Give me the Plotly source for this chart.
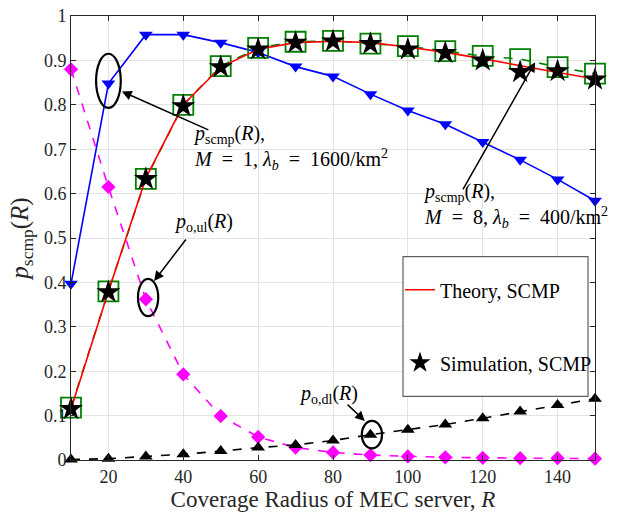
import plotly.graph_objects as go

R = [10, 20, 30, 40, 50, 60, 70, 80, 90, 100, 110, 120, 130, 140, 150]
p_scmp_m1 = [0.397, 0.848, 0.958, 0.958, 0.940, 0.918, 0.886, 0.864, 0.824, 0.787, 0.756, 0.716, 0.676, 0.632, 0.584]
theory_scmp = [0.115, 0.380, 0.635, 0.800, 0.885, 0.925, 0.940, 0.943, 0.940, 0.930, 0.918, 0.904, 0.888, 0.873, 0.858]
theory_m8 = [0.118, 0.380, 0.633, 0.800, 0.887, 0.928, 0.942, 0.944, 0.938, 0.932, 0.921, 0.910, 0.903, 0.885, 0.870]
sim_scmp = [0.115, 0.378, 0.633, 0.797, 0.885, 0.925, 0.940, 0.943, 0.937, 0.925, 0.917, 0.900, 0.874, 0.876, 0.857]
p_o_ul = [0.880, 0.615, 0.362, 0.193, 0.099, 0.052, 0.028, 0.017, 0.011, 0.008, 0.006, 0.005, 0.004, 0.004, 0.003]
p_o_dl = [0.001, 0.003, 0.008, 0.013, 0.020, 0.028, 0.034, 0.044, 0.057, 0.068, 0.080, 0.094, 0.109, 0.124, 0.138]

FONT = "Liberation Serif"

fig = go.Figure()

fig.add_trace(go.Scatter(x=R, y=p_scmp_m1, mode="lines+markers", showlegend=False, cliponaxis=False,
                         line=dict(color="#0000ff", width=1.6),
                         marker=dict(symbol="triangle-down", size=12, color="#0000ff")))
fig.add_trace(go.Scatter(x=R, y=p_o_ul, mode="lines+markers", showlegend=False, cliponaxis=False,
                         line=dict(color="#ff00ff", width=1.6, dash="dash"),
                         marker=dict(symbol="diamond", size=11, color="#ff00ff")))
fig.add_trace(go.Scatter(x=R, y=p_o_dl, mode="lines+markers", showlegend=False, cliponaxis=False,
                         line=dict(color="black", width=1.6, dash="dash"),
                         marker=dict(symbol="triangle-up", size=12, color="black")))
fig.add_trace(go.Scatter(x=R, y=theory_m8, mode="lines+markers", showlegend=False, cliponaxis=False,
                         line=dict(color="#008000", width=1.6, dash="dash"),
                         marker=dict(symbol="square-open", size=20, color="#008000",
                                     line=dict(width=1.8, color="#008000"))))
fig.add_trace(go.Scatter(x=R, y=theory_scmp, mode="lines", name="Theory, SCMP",
                         legendgroup="a", cliponaxis=False,
                         line=dict(color="#ff0000", width=1.6)))
fig.add_trace(go.Scatter(x=R, y=sim_scmp, mode="markers", name="Simulation, SCMP",
                         legendgroup="b", cliponaxis=False,
                         marker=dict(symbol="star", size=18, color="black")))

# legend box
fig.add_shape(type="rect", xref="paper", yref="paper",
              x0=(403 - 71) / 524, x1=(588 - 71) / 524,
              y0=(460 - 395) / 454, y1=(460 - 252) / 454,
              line=dict(color="#606060", width=1.2), fillcolor="white", layer="above")

# ellipses
ell = [(20, 0.854, 3.3, 0.061), (30.6, 0.366, 2.7, 0.042), (90.4, 0.057, 2.7, 0.031)]
for cx, cy, rx, ry in ell:
    fig.add_shape(type="circle", xref="x", yref="y", x0=cx - rx, x1=cx + rx,
                  y0=cy - ry, y1=cy + ry, line=dict(color="black", width=2.2))

# arrows
arrows = [((47.1, 0.742), (23.6, 0.830)), ((41.0, 0.500), (32.2, 0.403)),
          ((83.5, 0.128), (88.5, 0.088)), ((114.5, 0.606), (134.0, 0.896))]
for (tx, ty), (hx, hy) in arrows:
    fig.add_annotation(x=hx, y=hy, ax=tx, ay=ty, xref="x", yref="y", axref="x", ayref="y",
                       text="", showarrow=True, arrowhead=2, arrowsize=1.3, arrowwidth=1.5,
                       arrowcolor="black")

SP = "\u2002"

tfont = dict(family=FONT, size=20, color="black")
fig.add_annotation(x=42, y=0.703, xref="x", yref="y", xanchor="left", yanchor="middle",
                   align="left", showarrow=False, font=tfont,
                   text="<i>p</i><sub>scmp</sub>(<i>R</i>),<br><i>M</i>" + SP + "=" + SP + "1, <i>λ<sub>b</sub></i>"
                        + SP + "=" + SP + "1600/km<sup>2</sup>")
fig.add_annotation(x=103.5, y=0.573, xref="x", yref="y", xanchor="left", yanchor="middle",
                   align="left", showarrow=False, font=tfont,
                   text="<i>p</i><sub>scmp</sub>(<i>R</i>),<br><i>M</i>" + SP + "=" + SP + "8, <i>λ<sub>b</sub></i>"
                        + SP + "=" + SP + "400/km<sup>2</sup>")
fig.add_annotation(x=45.3, y=0.535, xref="x", yref="y", showarrow=False, font=tfont,
                   text="<i>p</i><sub>o,ul</sub>(<i>R</i>)")
fig.add_annotation(x=78.9, y=0.148, xref="x", yref="y", showarrow=False, font=tfont,
                   text="<i>p</i><sub>o,dl</sub>(<i>R</i>)")

axis_common = dict(showline=True, linecolor="#262626", linewidth=1, mirror="ticks",
                   ticks="inside", ticklen=5, tickcolor="#262626",
                   showgrid=True, gridcolor="#e3e3e3", gridwidth=1, zeroline=False,
                   ticklabeloverflow="allow",
                   tickfont=dict(family=FONT, size=18, color="#262626"))

fig.update_layout(
    width=621, height=514,
    margin=dict(l=71, r=26, t=6, b=54),
    plot_bgcolor="white", paper_bgcolor="white",
    font=dict(family=FONT, color="#262626"),
    xaxis=dict(range=[10, 150], tick0=0, dtick=20,
               title=dict(text="Coverage Radius of MEC server, <i>R</i>",
                          font=dict(family=FONT, size=23, color="#262626"), standoff=2),
               **axis_common),
    yaxis=dict(range=[0, 1], dtick=0.1, tickformat="~g",
               title=dict(text="<i>p</i><sub>scmp</sub>(<i>R</i>)",
                          font=dict(family=FONT, size=25, color="#262626"), standoff=8),
               **axis_common),
    legend=dict(x=(400 - 71) / 524, y=(460 - 266) / 454, xanchor="left", yanchor="top",
                bgcolor="rgba(0,0,0,0)", borderwidth=0, tracegroupgap=44,
                traceorder="grouped", itemwidth=30,
                font=dict(family=FONT, size=20, color="black")),
)

fig.write_html("out.html", config={"displayModeBar": False},
               post_script="document.body.style.margin='0px';")
